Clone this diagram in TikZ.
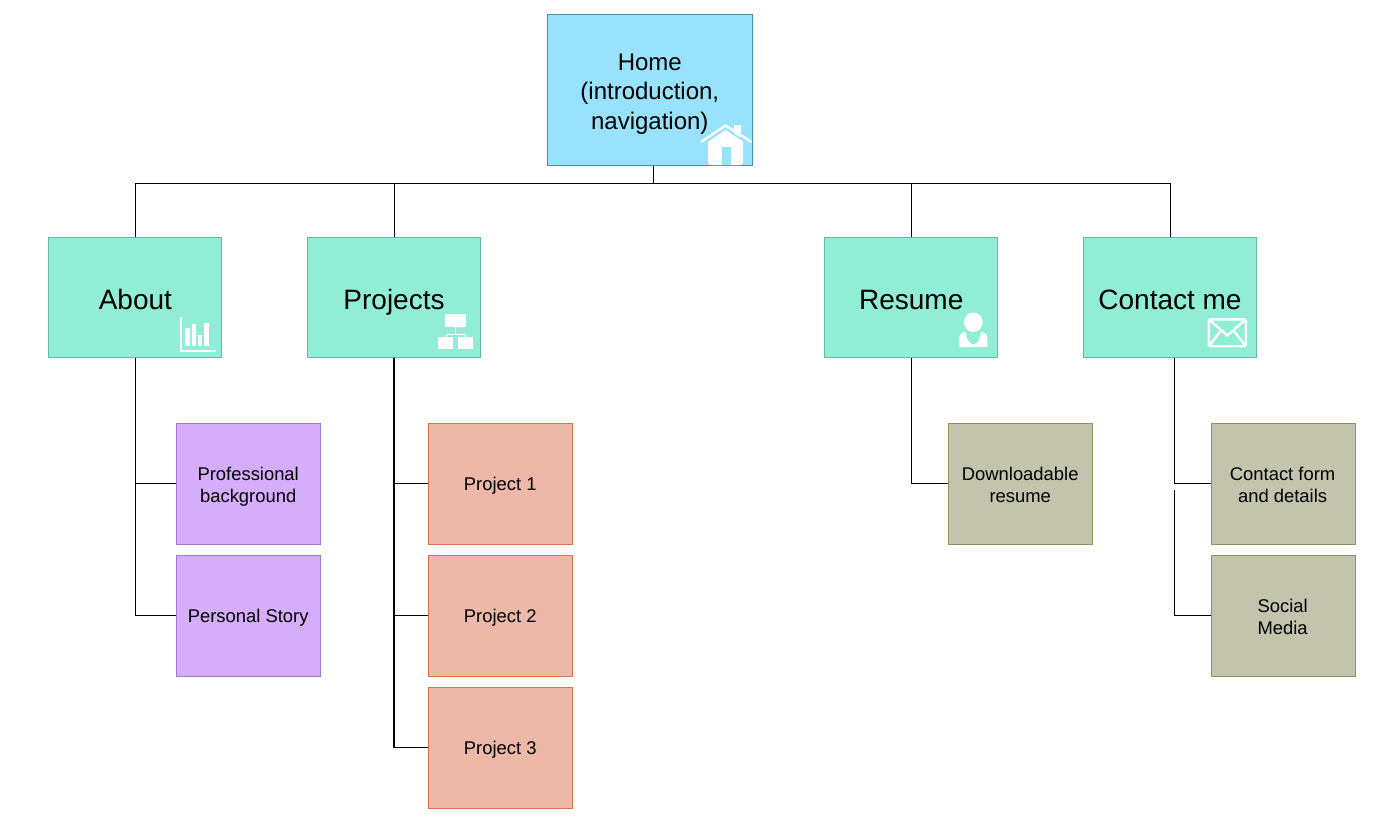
\documentclass[tikz,border=0pt]{standalone}
\usepackage{fontspec}
\setmainfont{Liberation Sans}
\definecolor{homef}{HTML}{99E2FC}\definecolor{homed}{HTML}{3F93AD}
\definecolor{secf}{HTML}{91EDD5}\definecolor{secd}{HTML}{62BBA3}
\definecolor{purf}{HTML}{D5ADFA}\definecolor{purd}{HTML}{A176CC}
\definecolor{salf}{HTML}{EEB8A9}\definecolor{sald}{HTML}{E0714F}
\definecolor{khaf}{HTML}{C4C3AD}\definecolor{khad}{HTML}{90905F}
\newcommand\tophome{\rule{0pt}{25.5pt}}
\newcommand\topleaf{\rule{0pt}{19pt}}
\newcommand\botleaf{\rule[-4pt]{0pt}{4pt}}
\newcommand\nudge{\hspace*{1.2pt}}
\tikzset{
 x=1pt,y=-1pt,
 box/.style={draw,line width=1pt,inner sep=0pt,align=center,text=black},
 homebox/.style={box,fill=homef,draw=homed,minimum width=205pt,minimum height=151pt,font=\fontsize{24}{29.5}\selectfont},
 secbox/.style={box,fill=secf,draw=secd,minimum width=173pt,minimum height=120pt,font=\fontsize{28}{32}\selectfont,
   execute at begin node={\rule{0pt}{30.5pt}},execute at end node={\rule[-6.5pt]{0pt}{6.5pt}}},
 leaf/.style={box,minimum width=144pt,minimum height=121pt,font=\fontsize{18.4}{22}\selectfont},
 oneline/.style={execute at begin node={\rule{0pt}{18pt}},execute at end node={\hspace*{1.2pt}\rule[-4pt]{0pt}{4pt}}},
 purleaf/.style={leaf,fill=purf,draw=purd},
 salleaf/.style={leaf,fill=salf,draw=sald},
 khaleaf/.style={leaf,fill=khaf,draw=khad},
 wire/.style={draw=black,line width=1.1pt},
 thickwire/.style={draw=black,line width=1.7pt},
 icon/.style={fill=white,draw=none},
 iconline/.style={draw=white,line width=2.4pt,fill=none},
}
\begin{document}
\begin{tikzpicture}
\useasboundingbox (0,0) rectangle (1381,828);
\fill[white] (0,0) rectangle (1381,828);
% nodes
\node[homebox] (home) at (649.8,89.5) {\tophome Home\\(introduction,\\navigation)};
\node[secbox] (about) at (135.4,297) {About};
\node[secbox] (projects) at (394,297) {Projects};
\node[secbox] (resume) at (911.2,297) {Resume};
\node[secbox] (contact) at (1170,297) {Contact me};
\node[purleaf] (prof) at (248.8,483.5) {\topleaf Professional\nudge\\background\nudge\botleaf};
\node[purleaf,oneline] (story) at (248.8,615.5) {Personal Story};
\node[salleaf,oneline] (p1) at (500.8,483.5) {Project 1};
\node[salleaf,oneline] (p2) at (500.8,615.5) {Project 2};
\node[salleaf,oneline] (p3) at (500.8,747.5) {Project 3};
\node[khaleaf] (dl) at (1020.8,483.5) {\topleaf Downloadable\nudge\\resume\nudge\botleaf};
\node[khaleaf] (form) at (1283.2,483.5) {\topleaf Contact form\nudge\\and details\nudge\botleaf};
\node[khaleaf] (social) at (1283.2,615.5) {\topleaf Social\nudge\\Media\nudge\botleaf};
% connectors
\coordinate (hub) at (653.5,183.5);
\coordinate (formgap) at (1174.5,483.5);
\coordinate (socialtop) at (1174.5,490);
\draw[wire] (hub |- home.south) -- (hub);
\draw[wire] (hub) -| (about.north);
\draw[wire] (hub) -| ([xshift=.5pt]projects.north);
\draw[wire] (hub) -| (resume.north);
\draw[wire] (hub) -| ([xshift=.5pt]contact.north);
\draw[wire] (about.south) |- (prof.west);
\draw[wire] (about.south) |- (story.west);
\draw[wire] (projects.south) |- (p1.west);
\draw[wire] (projects.south) |- (p2.west);
\draw[wire] (projects.south) |- (p3.west);
\draw[thickwire] (projects.south) -- (p3.west -| projects.south);
\draw[wire] (resume.south) |- (dl.west);
\draw[wire] (formgap |- contact.south) |- (form.west);
\draw[wire] (socialtop) |- (social.west);
% home icon
\fill[icon] (708,141) -- (725.5,129) -- (743,141) -- (743,162) .. controls (743,164) and (742,165) .. (740,165) -- (711,165) .. controls (709,165) and (708,164) .. (708,162) -- cycle;
\fill[homef] (722,147) rectangle (731,165);
\fill[icon] (734,125) rectangle (741,137);
\draw[draw=homef,line width=1.5pt] (701,145.5) -- (725.5,129) -- (751,145.5);
\draw[draw=white,line width=2.4pt] (701,142) -- (725.5,125.5) -- (751.5,142);
% chart icon
\fill[icon] (180,317) rectangle (182,352);
\fill[icon] (180,349.5) rectangle (216,352);
\fill[icon] (185,328) rectangle (190,346);
\fill[icon] (192,324) rectangle (196,346);
\fill[icon] (198,335) rectangle (202,346);
\fill[icon] (204,323) rectangle (209,346);
% org icon
\fill[icon] (445,314) rectangle (466,327);
\fill[icon] (438,337) rectangle (453,349);
\fill[icon] (458,337) rectangle (473,349);
\draw[draw=white,line width=1pt] (455.5,327) -- (455.5,334) (446,337) -- (446,334) -- (465.5,334) -- (465.5,337);
% person icon
\fill[icon] (973.3,322.3) ellipse [x radius=9.4,y radius=9.8];
\fill[icon] (959.3,347) -- (959.3,338) .. controls (959.3,334) and (962,332.5) .. (965.5,332)
  .. controls (966.5,337) and (968,344) .. (973.3,344.5)
  .. controls (978.5,344) and (980,337) .. (981,332)
  .. controls (984.5,332.5) and (987.3,334) .. (987.3,338) -- (987.3,347) -- cycle;
% envelope icon
\draw[iconline,rounded corners=1.5pt] (1208.8,319.3) rectangle (1245.8,346.2);
\draw[iconline] (1208.8,319.3) -- (1227.3,335.5) -- (1245.8,319.3);
\draw[iconline] (1208.8,346.2) -- (1221,330.5);
\draw[iconline] (1245.8,346.2) -- (1233.5,330.5);
\end{tikzpicture}
\end{document}
